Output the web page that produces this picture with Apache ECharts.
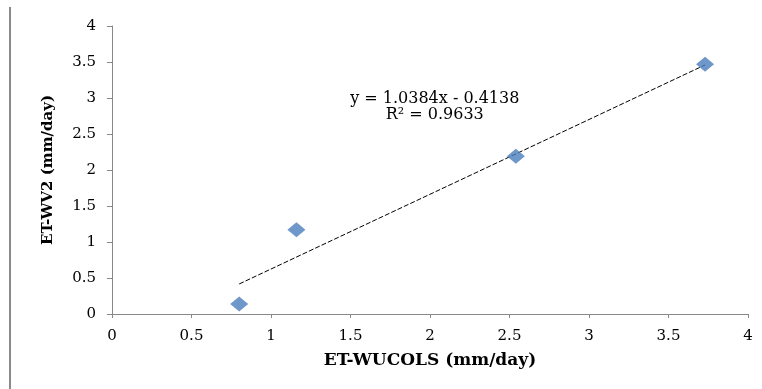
<!DOCTYPE html>
<html>
<head>
<meta charset="utf-8">
<script src="https://cdn.jsdelivr.net/npm/echarts@6/dist/echarts.min.js"></script>
<style>html,body{margin:0;padding:0;background:#fff;}#c{width:762px;height:389px;}</style>
</head>
<body>
<div id="c"></div>
<script>
const pointsX = [0.8, 1.16, 2.54, 3.73];
const pointsY = [0.14, 1.17, 2.19, 3.47];
const trendX = [0.8, 3.73];
const trendY = [0.417, 3.459];
const xTitle = 'ET-WUCOLS (mm/day)';
const yTitle = 'ET-WV2 (mm/day)';
const eqLines = ['y = 1.0384x - 0.4138', 'R² = 0.9633'];

const font = '"DejaVu Serif", "Liberation Serif", serif';
const chart = echarts.init(document.getElementById('c'));
chart.setOption({
  animation: false,
  backgroundColor: '#fff',
  grid: {left: 112, right: 14, top: 26, bottom: 75},
  xAxis: {
    type: 'value', min: 0, max: 4, interval: 0.5,
    name: xTitle, nameLocation: 'middle', nameGap: 38,
    nameTextStyle: {fontFamily: font, fontWeight: 'bold', fontSize: 17, color: '#000'},
    axisLine: {show: true, onZero: false, lineStyle: {color: '#888', width: 1}},
    axisTick: {show: true, length: 4, lineStyle: {color: '#888'}},
    axisLabel: {fontFamily: font, fontSize: 15, color: '#000', margin: 15},
    splitLine: {show: false}
  },
  yAxis: {
    type: 'value', min: 0, max: 4, interval: 0.5,
    name: yTitle, nameLocation: 'middle', nameGap: 56, nameRotate: 90,
    nameTextStyle: {fontFamily: font, fontWeight: 'bold', fontSize: 15, color: '#000'},
    axisLine: {show: true, lineStyle: {color: '#888', width: 1}},
    axisTick: {show: true, length: 5, lineStyle: {color: '#888'}},
    axisLabel: {fontFamily: font, fontSize: 15, color: '#000', margin: 16},
    splitLine: {show: false}
  },
  graphic: [
    {type: 'rect', left: 9, top: 7, shape: {width: 2, height: 382}, style: {fill: '#8a8a8a'}}
  ],
  series: [
    {
      type: 'line',
      data: trendX.map((x, i) => [x, trendY[i]]),
      symbol: 'none',
      lineStyle: {color: '#000', width: 1, type: [5, 2]},
      z: 3,
      markPoint: {
        symbol: 'rect', symbolSize: 0,
        data: [
          {coord: [2.03, 2.99], value: eqLines[0], label: {show: true, formatter: eqLines[0], fontFamily: font, fontSize: 16, color: '#000'}},
          {coord: [2.03, 2.77], value: eqLines[1], label: {show: true, formatter: eqLines[1], fontFamily: font, fontSize: 16, color: '#000'}}
        ]
      }
    },
    {
      type: 'scatter',
      data: pointsX.map((x, i) => [x, pointsY[i]]),
      symbol: 'diamond',
      symbolSize: [18, 15],
      itemStyle: {color: '#4A7EBB'},
      z: 4
    }
  ]
});
</script>
</body>
</html>
